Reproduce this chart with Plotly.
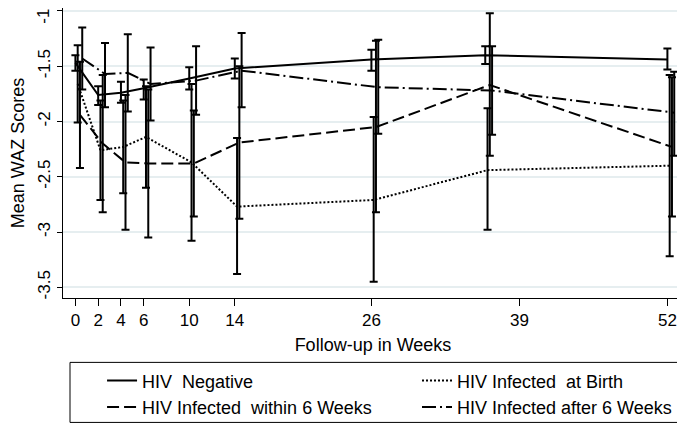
import plotly.graph_objects as go

weeks = [0, 2, 4, 6, 10, 14, 26, 36, 52]
x_tick_vals = [0, 2, 4, 6, 10, 14, 26, 39, 52]
y_tick_vals = [-1, -1.5, -2, -2.5, -3, -3.5]
y_tick_text = ["-1", "-1.5", "-2", "-2.5", "-3", "-3.5"]

neg_mean = [-1.47, -1.76, -1.74, -1.70, -1.61, -1.52, -1.44, -1.40, -1.44]
neg_lo = [-1.54, -1.85, -1.83, -1.80, -1.71, -1.61, -1.54, -1.48, -1.53]
neg_hi = [-1.40, -1.68, -1.64, -1.62, -1.51, -1.43, -1.35, -1.32, -1.34]

birth_mean = [-1.66, -2.26, -2.23, -2.14, -2.37, -2.77, -2.71, -2.44, -2.40]
birth_lo = [-2.01, -2.71, -2.65, -2.60, -3.08, -3.38, -3.45, -2.98, -3.22]
birth_hi = [-1.31, -1.81, -1.81, -1.68, -1.66, -2.15, -1.96, -1.88, -1.58]

within_mean = [-1.94, -2.20, -2.37, -2.38, -2.38, -2.19, -2.05, -1.67, -2.23]
within_lo = [-2.42, -2.82, -2.98, -3.05, -2.86, -2.88, -2.82, -2.31, -2.86]
within_hi = [-1.46, -1.58, -1.76, -1.71, -1.90, -1.50, -1.27, -1.02, -1.60]

after_mean = [-1.43, -1.57, -1.56, -1.66, -1.63, -1.54, -1.69, -1.72, -1.92]
after_lo = [-1.71, -1.87, -1.91, -1.99, -1.94, -1.87, -2.11, -2.12, -2.31]
after_hi = [-1.15, -1.29, -1.21, -1.33, -1.32, -1.20, -1.26, -1.32, -1.55]

series = [
    ("HIV  Negative", neg_mean, neg_lo, neg_hi, "solid", 0.0, "legend"),
    ("HIV Infected  at Birth", birth_mean, birth_lo, birth_hi, "2px,2px", 0.2, "legend2"),
    ("HIV Infected  within 6 Weeks", within_mean, within_lo, within_hi, "12px,5px", 0.4, "legend"),
    ("HIV Infected after 6 Weeks", after_mean, after_lo, after_hi, "14px,4px,2px,4px", 0.6, "legend2"),
]

FONT = "Liberation Sans, Arial, Helvetica, sans-serif"

fig = go.Figure()
for name, m, lo, hi, dash, off, leg in series:
    fig.add_trace(go.Scatter(
        x=[w + off for w in weeks],
        y=m,
        mode="lines",
        name=name,
        legend=leg,
        line=dict(color="black", width=2, dash=dash),
        error_y=dict(
            type="data",
            symmetric=False,
            array=[h - v for h, v in zip(hi, m)],
            arrayminus=[v - l for v, l in zip(m, lo)],
            color="black",
            thickness=2,
            width=4,
        ),
    ))

legend_common = dict(
    orientation="v",
    yanchor="top",
    y=-0.222,
    xanchor="left",
    borderwidth=0,
    bgcolor="rgba(0,0,0,0)",
    font=dict(family=FONT, size=18, color="black"),
    tracegroupgap=0,
    traceorder="normal",
)

# the top tick label would be clipped by the page edge; draw it slightly lower
shown_tick_text = ["" if v == y_tick_vals[0] else t for v, t in zip(y_tick_vals, y_tick_text)]

fig.update_layout(
    width=677,
    height=416,
    margin=dict(l=55, r=2, t=0, b=126, autoexpand=False),
    paper_bgcolor="white",
    plot_bgcolor="white",
    font=dict(family=FONT, size=17, color="black"),
    showlegend=True,
    legend=dict(x=0.063, **legend_common),
    legend2=dict(x=0.571, **legend_common),
    shapes=[dict(
        type="rect", xref="paper", yref="paper",
        x0=0.0113, x1=1.0, y0=-0.222, y1=-0.429,
        line=dict(color="black", width=1),
        fillcolor="rgba(0,0,0,0)",
    )],
    annotations=[dict(
        text=y_tick_text[0], xref="paper", yref="y",
        x=-0.031, y=y_tick_vals[0], xanchor="center", yanchor="middle",
        textangle=-90, showarrow=False, yshift=-5,
        font=dict(family=FONT, size=17, color="black"),
    )],
    xaxis=dict(
        range=[-1.09, 53.37],
        tickvals=x_tick_vals,
        ticks="outside",
        ticklen=7,
        tickwidth=1,
        tickcolor="black",
        showline=True,
        linecolor="black",
        linewidth=1,
        showgrid=False,
        zeroline=False,
        title=dict(text="Follow-up in Weeks", standoff=8, font=dict(size=18)),
        tickfont=dict(size=17),
    ),
    yaxis=dict(
        range=[-3.597, -0.973],
        tickvals=y_tick_vals,
        ticktext=shown_tick_text,
        tickangle=-90,
        ticks="outside",
        ticklen=5,
        tickwidth=1,
        tickcolor="black",
        ticklabeloverflow="allow",
        showline=True,
        linecolor="black",
        linewidth=1,
        showgrid=True,
        gridcolor="#e6eef0",
        gridwidth=1.5,
        zeroline=False,
        title=dict(text="Mean WAZ Scores", standoff=26, font=dict(size=18)),
        tickfont=dict(size=17),
    ),
)

fig.write_html("out.html")
